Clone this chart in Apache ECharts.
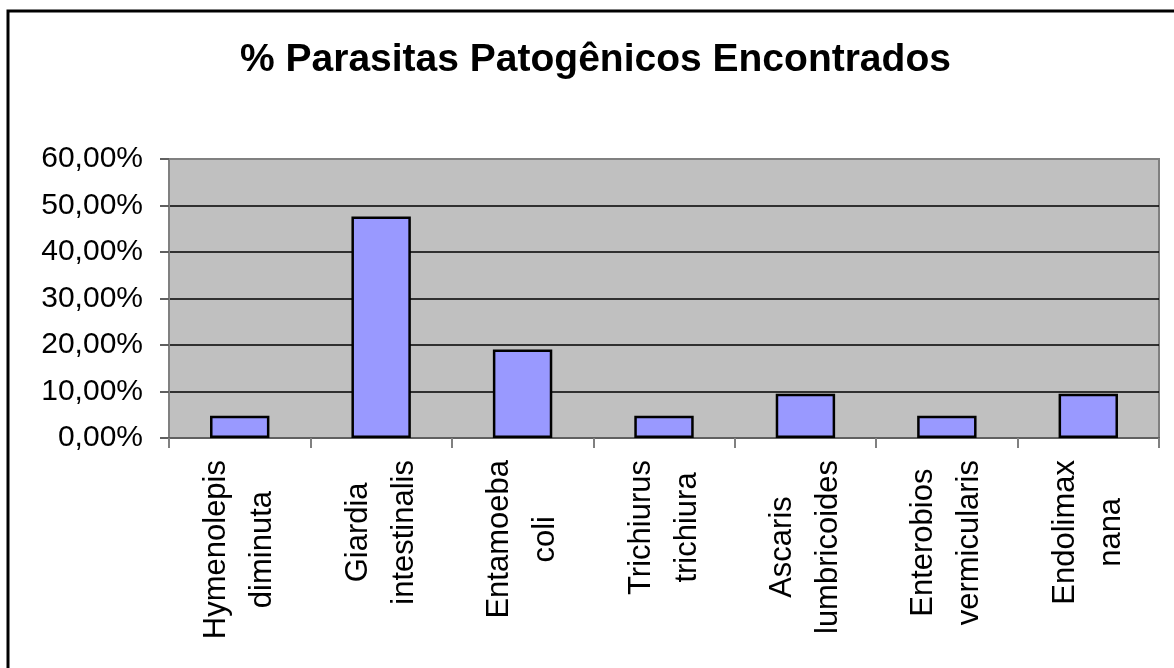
<!DOCTYPE html>
<html>
<head>
<meta charset="utf-8">
<script src="https://cdn.jsdelivr.net/npm/echarts@6/dist/echarts.min.js"></script>
<style>
html,body{margin:0;padding:0;background:#fff;}
#chart{width:1174px;height:668px;}
</style>
</head>
<body>
<div id="chart"></div>
<script>
const titleText = '% Parasitas Patogênicos Encontrados';
const categories = [
  'Hymenolepis\ndiminuta',
  'Giardia\nintestinalis',
  'Entamoeba\ncoli',
  'Trichiurus\ntrichiura',
  'Ascaris\nlumbricoides',
  'Enterobios\nvermicularis',
  'Endolimax\nnana'
];
const values = [4.76, 47.62, 19.05, 4.76, 9.52, 4.76, 9.52];
const yTicks = { min: 0, max: 60, interval: 10 };

const FONT = "'Liberation Sans', Arial, Helvetica, sans-serif";
const XFS = 31;

// Build centred two-line labels: pad each shorter line with spacer tokens
const mctx = document.createElement('canvas').getContext('2d');
mctx.font = XFS + "px 'Liberation Sans', Arial, sans-serif";
const rich = { t: { fontFamily: FONT, fontSize: XFS, lineHeight: 46, color: '#000' } };
const labelText = {};
categories.forEach(function (cat, ci) {
  const lines = cat.split('\n');
  const widths = lines.map(function (l) { return mctx.measureText(l).width; });
  const maxW = Math.max.apply(null, widths);
  labelText[cat] = lines.map(function (l, li) {
    const pad = (maxW - widths[li]) / 2;
    if (pad < 0.5) return '{t|' + l + '}';
    const name = 'p' + ci + 'x' + li;
    rich[name] = { width: pad, fontFamily: FONT, fontSize: XFS, lineHeight: 46 };
    return '{' + name + '| }{t|' + l + '}{' + name + '| }';
  }).join('\n');
});

const chart = echarts.init(document.getElementById('chart'), null, { renderer: 'canvas' });

chart.setOption({
  backgroundColor: '#ffffff',
  animation: false,
  title: {
    text: titleText,
    left: 240,
    top: 41,
    padding: 0,
    textStyle: { fontFamily: FONT, fontSize: 39, fontWeight: 'bold', color: '#000' }
  },
  graphic: [{
    type: 'rect',
    shape: { x: 8, y: 11, width: 1400, height: 900 },
    style: { fill: null, stroke: '#000', lineWidth: 3 },
    z: 100,
    silent: true
  }],
  grid: {
    left: 169, top: 159, right: 15, bottom: 230,
    show: true,
    backgroundColor: '#C0C0C0',
    borderColor: '#808080',
    borderWidth: 2
  },
  xAxis: {
    type: 'category',
    data: categories,
    axisLine: { lineStyle: { color: '#606060', width: 2 } },
    axisTick: { show: true, length: 10, lineStyle: { color: '#808080', width: 2 } },
    axisLabel: {
      interval: 0,
      rotate: 90,
      margin: 22,
      formatter: function (v) { return labelText[v]; },
      rich: rich
    }
  },
  yAxis: {
    type: 'value',
    min: yTicks.min,
    max: yTicks.max,
    interval: yTicks.interval,
    axisLine: { show: true, lineStyle: { color: '#808080', width: 2 } },
    axisTick: { show: true, length: 9, lineStyle: { color: '#606060', width: 2 } },
    axisLabel: {
      margin: 26,
      fontFamily: FONT,
      fontSize: 30,
      color: '#000',
      formatter: function (v) { return v.toFixed(2).replace('.', ',') + '%'; }
    },
    splitLine: {
      show: true,
      lineStyle: { color: ['#808080', '#000', '#000', '#000', '#000', '#000', '#808080'], width: 1.5 }
    }
  },
  series: [{
    type: 'bar',
    data: values,
    barCategoryGap: '58%',
    itemStyle: { color: '#9999FF', borderColor: '#000', borderWidth: 2.5 }
  }]
});
</script>
</body>
</html>
